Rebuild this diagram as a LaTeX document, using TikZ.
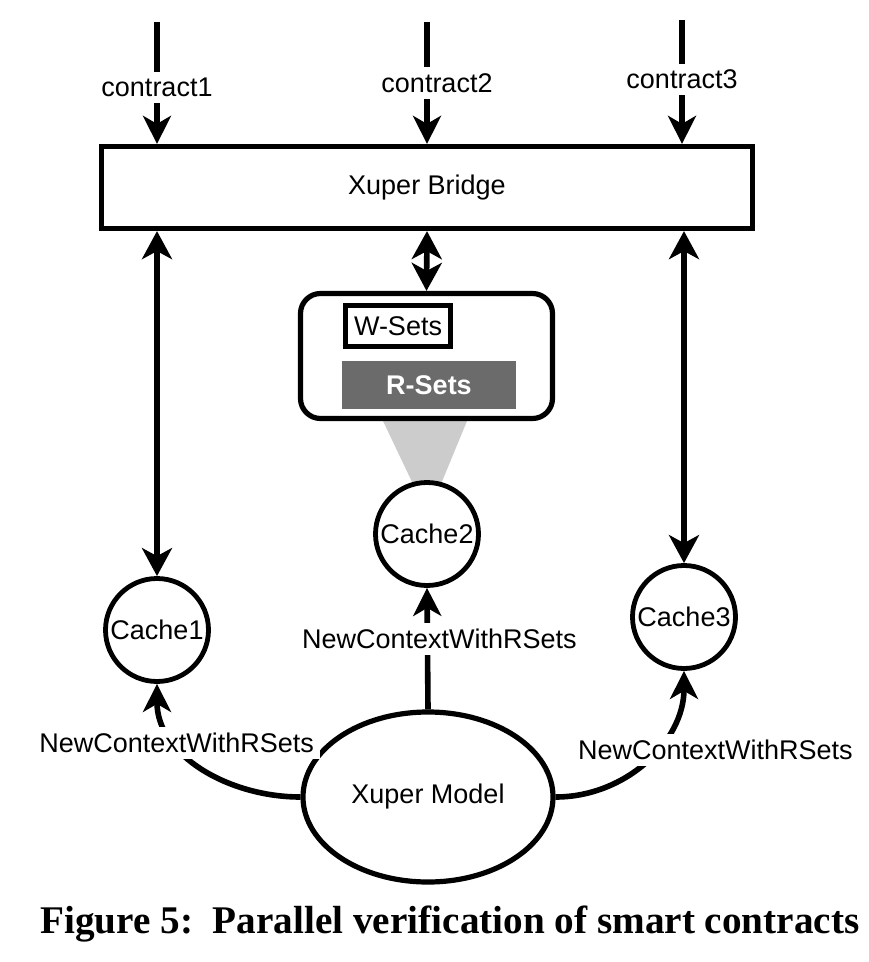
\documentclass[tikz,border=0pt]{standalone}
\usepackage{fontspec}
\setmainfont{Liberation Sans}
\newfontfamily\capfont{Liberation Serif}
\usepackage{tikz}
\usetikzlibrary{arrows.meta, shapes.geometric}
\definecolor{rsetgray}{HTML}{6B6B6B}
\definecolor{funnelgray}{HTML}{CCCCCC}

\begin{document}
\begin{tikzpicture}[x=0.5pt, y=-0.5pt,
    txt/.style={font=\fontsize{13.5}{16}\selectfont},
    lbl/.style={txt, fill=white, inner sep=3pt},
    cache/.style={txt, circle, draw, line width=2.4pt, minimum size=51.5pt, inner sep=0pt},
    flow/.style={line width=2.8pt, -{Stealth[length=14pt, width=14pt, inset=4pt]}},
    both/.style={line width=2.8pt, {Stealth[length=14pt, width=15pt, inset=4pt]}-{Stealth[length=14pt, width=15pt, inset=4pt]}}]
          \fill[white] (0,0) rectangle (868,962);
          % bridge and the three contracts
          \node[txt, draw, line width=2.6pt, minimum width=325.5pt, minimum height=41pt] (bridge) at (427,187.5)
            {Xuper Bridge};
          \coordinate (top1) at (157,22);
          \coordinate (top2) at (427,22);
          \coordinate (top3) at (682,20);
          \draw[flow] (top1) -- node[lbl, pos=0.54] (c1) {contract1} (top1 |- bridge.north);
          \draw[flow] (top2) -- node[lbl, pos=0.5, xshift=5pt] (c2) {contract2} (top2 |- bridge.north);
          \draw[flow] (top3) -- node[lbl, pos=0.48] (c3) {contract3} (top3 |- bridge.north);
          % read and write sets
          \fill[funnelgray] (383,421) -- (467,421) -- (441,484) -- (413,484) -- cycle;
          \node[draw, line width=2.6pt, rounded corners=10pt, minimum width=126pt, minimum height=62.5pt] (store) at (426.5,356)
            {};
          \node[txt, draw, line width=2.5pt, fill=white, minimum width=52.5pt, minimum height=20.5pt, inner sep=1pt] (wsets) at (398,326)
            {W-Sets};
          \node[fill=rsetgray, text=white, font=\fontsize{13.5}{16}\selectfont\bfseries, minimum width=87pt, minimum height=24pt] (rsets) at (429,385)
            {R-Sets};
          % caches
          \node[cache] (cache1) at (157,630) {Cache1};
          \node[cache] (cache2) at (427,534) {Cache2};
          \node[cache] (cache3) at (684,617) {Cache3};
          \node[txt, ellipse, draw, line width=2.6pt, minimum width=125pt, minimum height=85pt] (model) at (428,797)
            {Xuper Model};
          \draw[both] (bridge.south) -- (store.north);
          \draw[both] (bridge.south -| cache1.north) -- (cache1.north);
          \draw[both] (bridge.south -| cache3.north) -- (cache3.north);
          \draw[flow] (model.north) -- node[lbl, pos=0.58, xshift=6pt] {NewContextWithRSets} (cache2.south);
          \draw[flow] (model.west) to[out=180, in=-90] node[lbl, pos=0.68] {NewContextWithRSets} (cache1.south);
          \draw[flow] (model.east) to[out=0, in=-90] node[lbl, pos=0.57, xshift=30pt] {NewContextWithRSets} (cache3.south);
          \node[font=\capfont\bfseries\fontsize{19.6}{24}\selectfont] (caption) at (450,924)
            {Figure 5:\ \ Parallel verification of smart contracts};
        \end{tikzpicture}
\end{document}
